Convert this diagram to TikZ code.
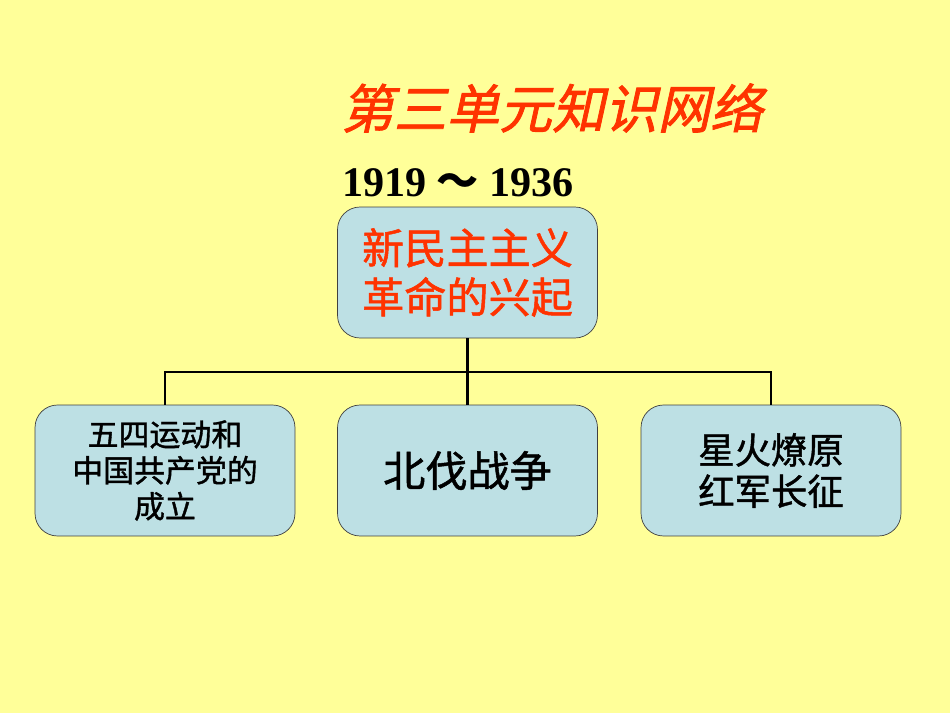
\documentclass[tikz,border=0pt]{standalone}
\usepackage{fontspec}
\setmainfont{Liberation Serif}
\newfontfamily\cjk[FakeBold=1.2]{Noto Sans CJK SC}
\newfontfamily\cjkthin{Noto Sans CJK SC}
\newfontfamily\cjkslant[FakeSlant=0.22,FakeBold=1.5]{Noto Sans CJK SC}

\definecolor{slidebg}{RGB}{255,255,153}
\definecolor{boxfill}{RGB}{189,224,228}
\definecolor{titlered}{RGB}{255,51,0}

\tikzset{
  topic/.style={draw=black!75, thin, fill=boxfill, rounded corners=0.45cm,
    minimum width=5.2cm, minimum height=2.62cm, align=center, inner sep=2pt},
  link/.style={draw=black, line width=1.6pt}
}

\begin{document}
\begin{tikzpicture}[x=0.02cm, y=-0.02cm]

  % Slide background
  \fill [slidebg] (0,0) rectangle (950,713);
  \useasboundingbox (0,0) rectangle (950,713);

  % Title and period
  \node [text=titlered, font=\cjkslant\fontsize{30}{34}\selectfont] (title) at (552,108) {第三单元知识网络};
  \node [font=\bfseries\fontsize{24}{28}\selectfont] (period) at (458,183) {1919 {\cjkthin ～} 1936};

  % Topic boxes
  \node [topic, text=titlered, font=\cjk\fontsize{24}{28}\selectfont] (main) at (467.5,272.5) {新民主主义\\革命的兴起};
  \node [topic, font=\cjk\fontsize{17.6}{20.5}\selectfont] (mayfourth) at (165,470.5) {五四运动和\\中国共产党的\\成立};
  \node [topic, font=\cjk\fontsize{24}{28}\selectfont] (northern) at (467.5,470.5) {北伐战争};
  \node [topic, font=\cjk\fontsize{20.7}{23.5}\selectfont] (longmarch) at (771,470.5) {星火燎原\\红军长征};

  % Tree connectors
  \coordinate (bar) at (467.5,372);
  \draw [link] (main.south) -- (bar);
  \draw [link] (mayfourth.north) |- (longmarch.north |- bar) -- (longmarch.north);
  \draw [link] (bar) -- (northern.north);

\end{tikzpicture}
\end{document}
